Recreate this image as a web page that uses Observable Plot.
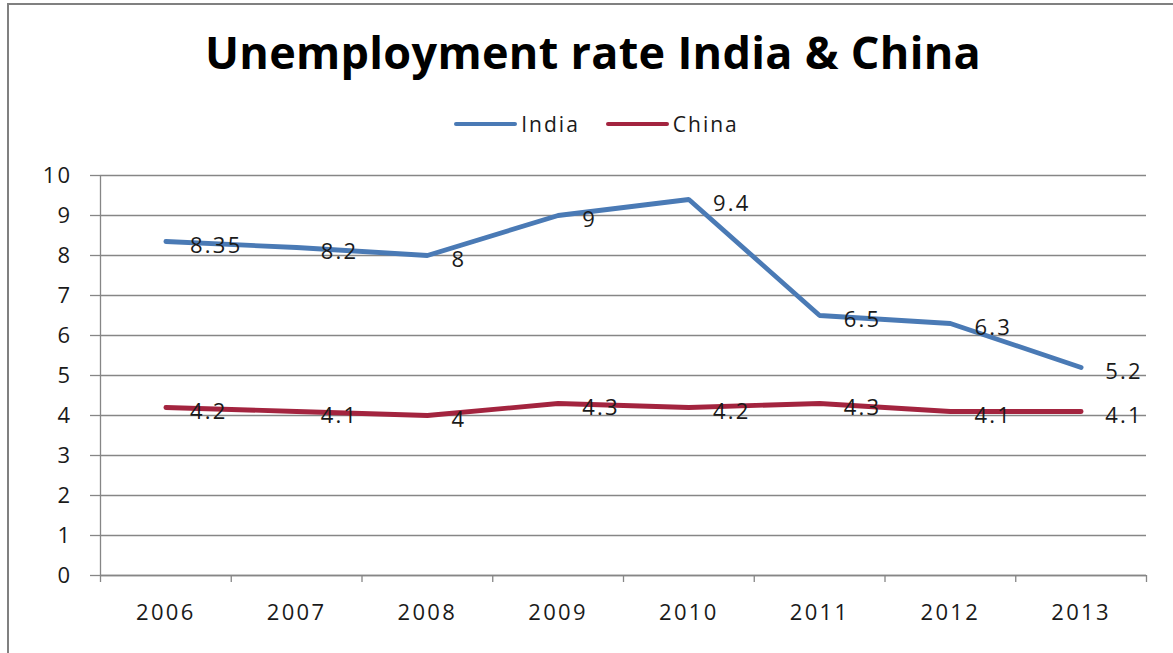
<!DOCTYPE html>
<html>
<head>
<meta charset="utf-8">
<script src="https://cdn.jsdelivr.net/npm/d3@7"></script>
<script src="https://cdn.jsdelivr.net/npm/@observablehq/plot@0.6"></script>
<style>
  html, body { margin: 0; padding: 0; background: #fff; overflow: hidden; }
  #wrap { position: relative; width: 1173px; height: 653px; overflow: hidden; font-family: "Open Sans", sans-serif; }
  #frame { position: absolute; left: 7px; top: 3px; width: 1300px; height: 800px; border-left: 2px solid #808080; border-top: 2px solid #808080; box-sizing: border-box; }
  #title { position: absolute; left: 0; width: 1186px; top: 22px; text-align: center; font-weight: 700; font-size: 45px; letter-spacing: 0.3px; color: #000; line-height: 60px; }
  #legend { position: absolute; left: 0; width: 1193px; top: 110px; display: flex; justify-content: center; align-items: center; gap: 26px; font-size: 21px; letter-spacing: 2px; color: #1a1a1a; }
  #legend .item { display: flex; align-items: center; gap: 4px; }
  #legend .sw { display: inline-block; width: 63px; height: 4px; border-radius: 2px; }
  #chart { position: absolute; left: 0; top: 150px; }
</style>
</head>
<body>
<div id="wrap">
  <div id="frame"></div>
  <div id="title">Unemployment rate India &amp; China</div>
  <div id="legend"></div>
  <div id="chart"></div>
</div>
<script>
const years = [2006, 2007, 2008, 2009, 2010, 2011, 2012, 2013];
const india = [8.35, 8.2, 8, 9, 9.4, 6.5, 6.3, 5.2];
const china = [4.2, 4.1, 4, 4.3, 4.2, 4.3, 4.1, 4.1];
const seriesNames = ["India", "China"];
const seriesColors = ["#4a7ab5", "#a3243f"];
const yTicks = [0, 1, 2, 3, 4, 5, 6, 7, 8, 9, 10];

const rows = [];
years.forEach((yr, i) => {
  rows.push({year: yr, value: india[i], series: "India"});
  rows.push({year: yr, value: china[i], series: "China"});
});
const boundaries = [years[0] - 0.5, ...years.map(y => y + 0.5)];

const legend = document.getElementById("legend");
seriesNames.forEach((name, i) => {
  const item = document.createElement("div");
  item.className = "item";
  const sw = document.createElement("span");
  sw.className = "sw";
  sw.style.background = seriesColors[i];
  const lab = document.createElement("span");
  lab.textContent = name;
  item.appendChild(sw);
  item.appendChild(lab);
  legend.appendChild(item);
});

const gridColor = "#868686";
const chart = Plot.plot({
  width: 1173,
  height: 503,
  marginTop: 25,
  marginBottom: 78,
  marginLeft: 100,
  marginRight: 27,
  style: {fontFamily: "Open Sans, sans-serif", fontSize: "22px", letterSpacing: "2.3px", color: "#1a1a1a", background: "transparent"},
  x: {domain: [boundaries[0], boundaries[boundaries.length - 1]]},
  y: {domain: [0, 10]},
  color: {domain: seriesNames, range: seriesColors},
  marks: [
    Plot.gridY(yTicks, {stroke: gridColor, strokeOpacity: 1, strokeWidth: 1.3}),
    Plot.axisY(yTicks, {tickSize: 10, tickPadding: 18, stroke: gridColor, strokeOpacity: 1, strokeWidth: 1.3, fill: "#1a1a1a", fontSize: 22, label: null}),
    Plot.ruleX([boundaries[0]], {y1: 0, y2: 10, stroke: gridColor, strokeWidth: 1.3}),
    Plot.ruleY([0], {stroke: gridColor, strokeWidth: 1.3}),
    Plot.axisX(boundaries, {tickSize: 7, tickFormat: () => "", stroke: gridColor, strokeOpacity: 1, strokeWidth: 1.3, label: null}),
    Plot.axisX(years, {tickSize: 0, tickPadding: 29, tickFormat: d => String(d), fill: "#1a1a1a", fontSize: 22, label: null}),
    Plot.line(rows, {x: "year", y: "value", z: "series", stroke: "series", strokeWidth: 4.8, strokeLinejoin: "miter", strokeLinecap: "round"}),
    Plot.text(rows, {x: "year", y: "value", text: d => String(d.value), dx: 24, dy: 4, textAnchor: "start", fill: "#1a1a1a", fontSize: 22})
  ]
});
document.getElementById("chart").appendChild(chart);
</script>
</body>
</html>
